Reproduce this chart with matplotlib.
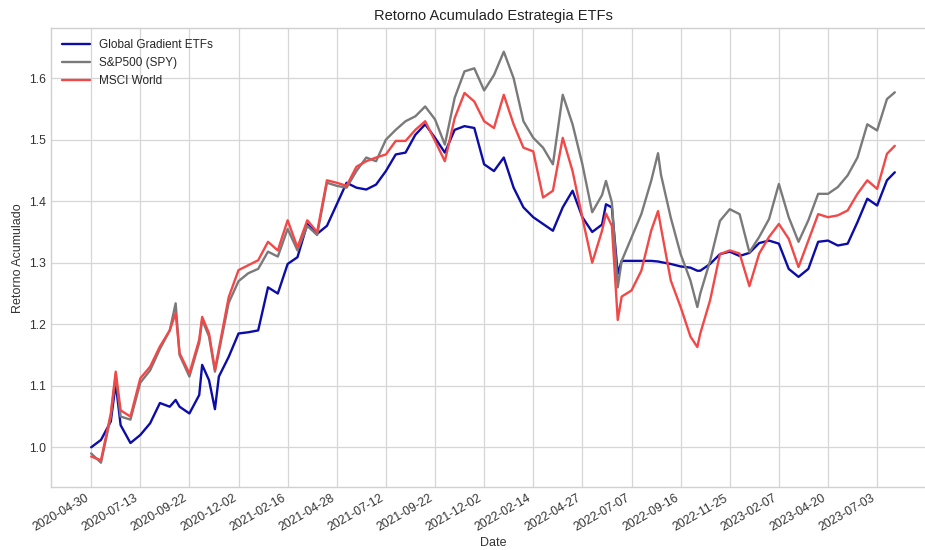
import numpy as np
import matplotlib
matplotlib.use("Agg")
import matplotlib.pyplot as plt

plt.style.use("seaborn-v0_8-whitegrid")
plt.rcParams["font.family"] = ["Liberation Sans", "DejaVu Sans"]

# row position of each read-off sample (trading-day index)
idx = [0, 10, 20, 25, 30, 40, 50, 60, 70, 80, 86, 90,
       100, 110, 113, 120, 126, 130, 140, 150, 160, 170, 180, 190,
       200, 210, 220, 230, 240, 250, 260, 270, 280, 290,
       300, 310, 320, 330, 340, 350, 360, 370, 380, 390,
       400, 410, 420, 430, 440, 450, 460, 470, 480, 490,
       500, 510, 520, 524, 530, 536, 540, 550, 560, 570, 577, 580, 590,
       600, 610, 617, 620, 630, 640, 650, 660, 670, 680, 690,
       700, 710, 720, 730, 740, 750, 760, 770, 780, 790,
       800, 810, 818]

gg_etfs = [1.000, 1.012, 1.042, 1.104, 1.036, 1.007, 1.020, 1.039, 1.072, 1.066, 1.077, 1.066,
           1.055, 1.085, 1.134, 1.109, 1.062, 1.115, 1.147, 1.185, 1.187, 1.190, 1.260, 1.250,
           1.298, 1.309, 1.363, 1.347, 1.360, 1.395, 1.430, 1.422, 1.419, 1.427,
           1.449, 1.476, 1.479, 1.508, 1.525, 1.503, 1.479, 1.516, 1.522, 1.519,
           1.460, 1.449, 1.471, 1.422, 1.390, 1.374, 1.363, 1.352, 1.390, 1.417,
           1.374, 1.350, 1.362, 1.395, 1.390, 1.282, 1.303, 1.303, 1.303, 1.303, 1.302, 1.301, 1.298,
           1.294, 1.292, 1.287, 1.287, 1.298, 1.314, 1.318, 1.311, 1.316, 1.332, 1.336,
           1.331, 1.290, 1.277, 1.290, 1.334, 1.336, 1.328, 1.331, 1.366, 1.404,
           1.393, 1.434, 1.447]

spy = [0.990, 0.975, 1.050, 1.118, 1.050, 1.045, 1.105, 1.125, 1.160, 1.190, 1.234, 1.150,
       1.115, 1.170, 1.207, 1.180, 1.123, 1.155, 1.235, 1.270, 1.283, 1.290, 1.318, 1.310,
       1.355, 1.320, 1.360, 1.345, 1.430, 1.425, 1.422, 1.449, 1.471, 1.465,
       1.500, 1.516, 1.530, 1.538, 1.554, 1.533, 1.492, 1.568, 1.611, 1.616,
       1.580, 1.605, 1.643, 1.600, 1.530, 1.503, 1.487, 1.460, 1.573, 1.525,
       1.460, 1.382, 1.410, 1.433, 1.398, 1.260, 1.303, 1.341, 1.379, 1.433, 1.478, 1.443, 1.373,
       1.314, 1.271, 1.228, 1.250, 1.303, 1.368, 1.387, 1.379, 1.317, 1.342, 1.371,
       1.428, 1.374, 1.334, 1.369, 1.412, 1.412, 1.423, 1.442, 1.471, 1.525,
       1.515, 1.566, 1.577]

msci = [0.985, 0.979, 1.055, 1.123, 1.060, 1.050, 1.112, 1.131, 1.164, 1.190, 1.218, 1.153,
        1.120, 1.175, 1.212, 1.185, 1.126, 1.160, 1.244, 1.288, 1.296, 1.304, 1.334, 1.320,
        1.369, 1.325, 1.369, 1.350, 1.434, 1.430, 1.425, 1.456, 1.465, 1.471,
        1.476, 1.498, 1.498, 1.516, 1.530, 1.498, 1.465, 1.535, 1.576, 1.562,
        1.530, 1.519, 1.573, 1.525, 1.487, 1.481, 1.406, 1.417, 1.503, 1.449,
        1.373, 1.300, 1.352, 1.380, 1.360, 1.207, 1.245, 1.255, 1.287, 1.352, 1.384, 1.357, 1.271,
        1.228, 1.180, 1.163, 1.185, 1.239, 1.314, 1.320, 1.315, 1.262, 1.315, 1.342,
        1.363, 1.339, 1.293, 1.336, 1.379, 1.374, 1.377, 1.385, 1.412, 1.434,
        1.420, 1.477, 1.490]

tick_pos = [0, 50, 100, 150, 200, 250, 300, 350, 400, 450,
            500, 550, 600, 650, 700, 750, 800]
tick_dates = ["2020-04-30", "2020-07-13", "2020-09-22", "2020-12-02", "2021-02-16",
              "2021-04-28", "2021-07-12", "2021-09-22", "2021-12-02", "2022-02-14",
              "2022-04-27", "2022-07-07", "2022-09-16", "2022-11-25", "2023-02-07",
              "2023-04-20", "2023-07-03"]

fig = plt.figure(figsize=(9.25, 5.5), dpi=100)
# right edge of the axes runs past the figure, as in the cropped original
ax = fig.add_axes([0.0551, 0.114, 0.9557, 0.8345])

ax.plot(idx, gg_etfs, color="#0c0ca8", lw=1.7, label="Global Gradient ETFs")
ax.plot(idx, spy, color="#7a7a7a", lw=1.7, label="S&P500 (SPY)")
ax.plot(idx, msci, color="#f24848", lw=1.7, label="MSCI World")

ax.set_ylim(0.935, 1.681)
ax.set_xticks(tick_pos)
ax.set_xticklabels(tick_dates, rotation=30, ha="right", fontsize=8.8, color="#333333")
ax.tick_params(axis="y", labelsize=8.8, labelcolor="#333333")
ax.grid(True, color="#d6d6d6", lw=0.9)
for s in ax.spines.values():
    s.set_color("#d0d0d0")

ax.set_title("Retorno Acumulado Estrategia ETFs", fontsize=10.5, color="#222222", pad=6)
ax.set_xlabel("Date", fontsize=9, color="#333333", labelpad=2)
ax.set_ylabel("Retorno Acumulado", fontsize=9, color="#333333")
ax.legend(loc="upper left", fontsize=8.5, handlelength=2.4, frameon=False)

fig.savefig("out.png", dpi=100)
